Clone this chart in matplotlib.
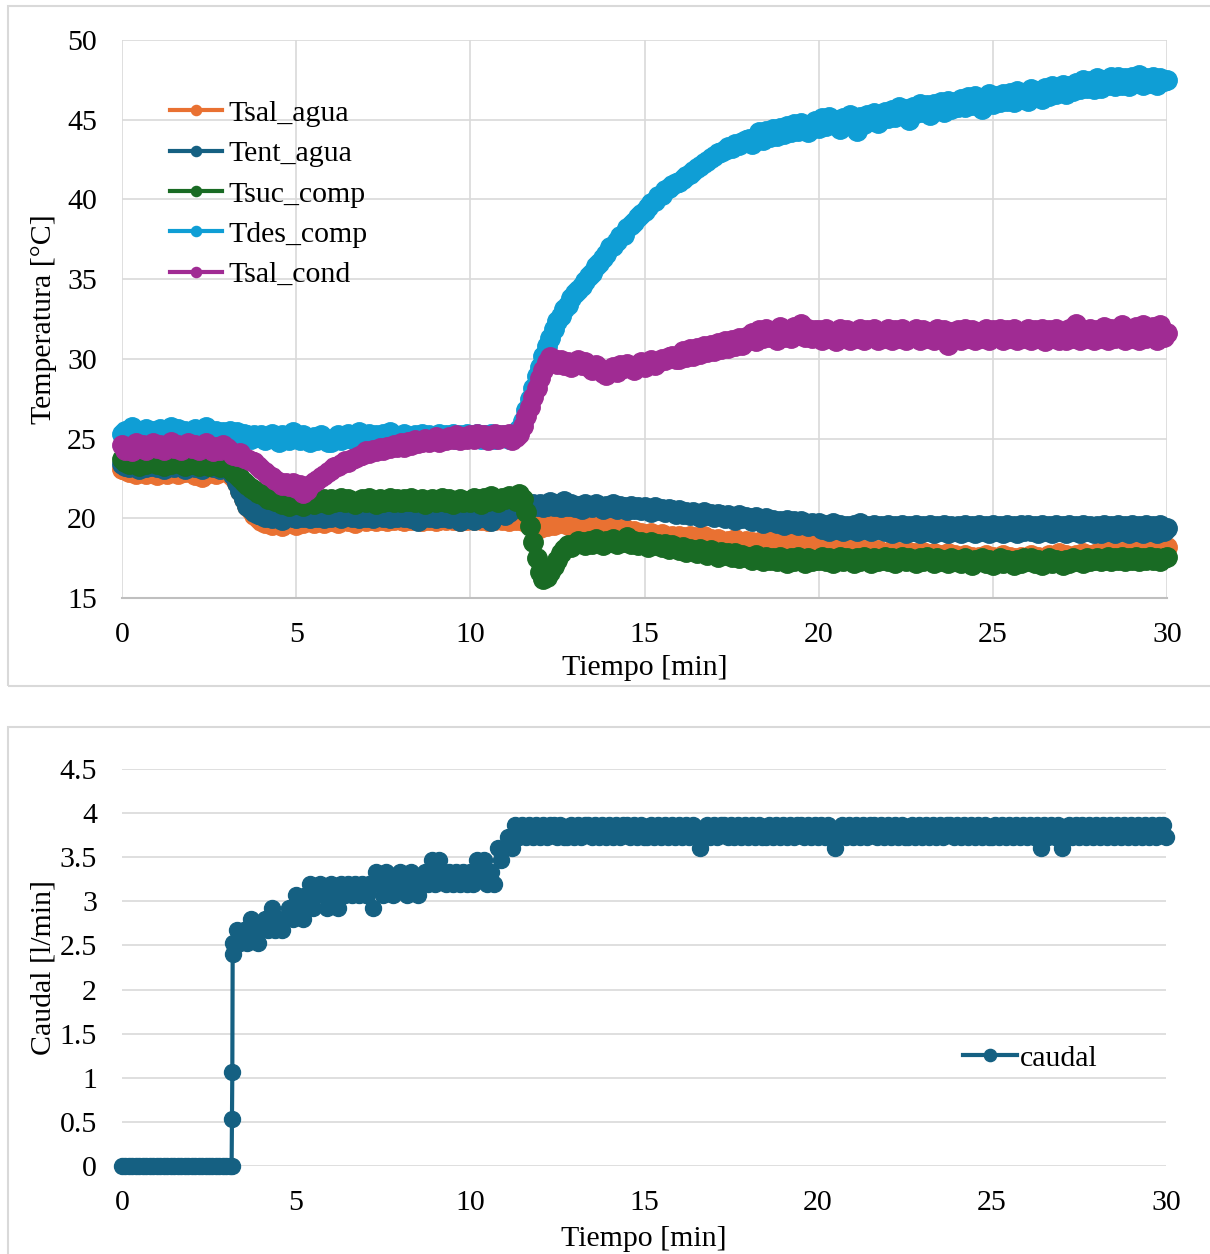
import numpy as np
import matplotlib
matplotlib.use("Agg")
import matplotlib.pyplot as plt
from matplotlib.patches import Rectangle

plt.rcParams['font.family'] = ['Liberation Serif', 'DejaVu Serif']

# time axis (minutes), one sample every 0.1 min
t = np.round(np.arange(0, 30.001, 0.1), 2)

tsal_agua = [
    23.1, 23.0, 22.9, 23.0, 22.8, 22.9, 23.1, 22.8, 23.0, 22.9, 22.7, 23.0, 22.9, 22.8, 23.0, 22.9, 22.8, 23.0, 22.9, 23.0,
    22.9, 22.7, 22.9, 22.6, 22.8, 23.0, 22.9, 22.8, 22.9, 23.0, 22.9, 22.8, 22.6, 22.2, 21.7, 21.2, 20.8, 20.5, 20.2, 20.0,
    19.8, 19.7, 19.9, 19.6, 19.8, 19.7, 19.5, 19.8, 19.9, 19.7, 19.6, 19.8, 19.7, 19.9, 19.8, 19.7, 19.9, 19.8, 19.7, 19.9,
    19.8, 19.9, 19.7, 19.9, 20.0, 19.8, 19.9, 19.7, 20.0, 19.9, 19.8, 20.0, 19.9, 19.8, 20.0, 19.9, 19.8, 20.0, 19.9, 20.0,
    19.9, 19.8, 20.0, 19.9, 20.1, 19.9, 19.8, 20.0, 19.9, 20.0, 19.8, 19.9, 20.0, 19.9, 20.1, 19.9, 20.0, 19.8, 20.0, 19.9,
    20.0, 19.9, 20.1, 19.9, 20.0, 19.8, 20.0, 19.9, 20.1, 19.9, 20.0, 19.8, 20.0, 19.9, 20.0, 19.8, 19.9, 19.7, 19.6, 19.5,
    19.4, 19.6, 19.5, 19.7, 19.6, 19.8, 19.7, 19.9, 19.6, 19.8, 19.7, 19.9, 19.8, 19.6, 19.8, 19.7, 19.9, 19.7, 19.6, 19.8,
    19.6, 19.5, 19.4, 19.3, 19.4, 19.2, 19.1, 19.2, 19.0, 19.1, 18.9, 19.0, 19.1, 18.9, 18.8, 19.0, 18.9, 18.8, 18.9, 18.7,
    18.9, 18.8, 18.7, 18.9, 18.6, 18.8, 18.7, 18.9, 18.6, 18.7, 18.5, 18.7, 18.6, 18.4, 18.6, 18.5, 18.7, 18.4, 18.5, 18.6,
    18.4, 18.5, 18.3, 18.5, 18.2, 18.4, 18.6, 18.3, 18.4, 18.2, 18.5, 18.3, 18.4, 18.7, 18.8, 18.5, 18.3, 18.4, 18.2, 18.3,
    18.1, 18.3, 18.0, 18.2, 18.1, 17.9, 18.2, 18.0, 18.1, 17.9, 18.0, 18.2, 17.8, 18.0, 17.9, 18.1, 17.8, 18.0, 17.9, 17.7,
    17.8, 18.0, 17.7, 17.9, 17.8, 17.6, 17.9, 17.7, 17.8, 17.6, 17.9, 17.7, 17.5, 17.8, 17.6, 17.7, 17.5, 17.8, 17.6, 17.7,
    17.6, 17.4, 17.7, 17.5, 17.6, 17.3, 17.6, 17.5, 17.7, 17.4, 17.6, 17.3, 17.5, 17.7, 17.4, 17.6, 17.5, 17.3, 17.6, 17.4,
    17.5, 17.7, 17.4, 17.6, 17.3, 17.5, 17.7, 17.4, 17.6, 17.8, 17.5, 17.7, 17.6, 17.4, 17.7, 17.5, 17.8, 17.6, 17.7, 17.5,
    17.8, 17.6, 17.9, 17.7, 18.0, 17.8, 17.6, 17.9, 17.7, 18.0, 17.8, 18.1, 17.9, 17.7, 18.0, 17.8, 18.1, 17.9, 17.5, 18.0,
    18.2]

tent_agua = [
    23.4, 23.3, 23.2, 23.4, 23.3, 23.1, 23.4, 23.2, 23.3, 23.5, 23.2, 23.3, 23.1, 23.4, 23.3, 23.2, 23.4, 23.3, 23.1, 23.3,
    23.4, 23.2, 23.3, 23.1, 23.3, 23.4, 23.2, 23.3, 23.1, 23.3, 23.2, 23.0, 22.7, 22.2, 21.7, 21.2, 20.8, 20.6, 20.4, 20.3,
    20.2, 20.1, 20.3, 20.0, 20.2, 20.1, 19.9, 20.2, 20.3, 20.1, 20.0, 20.2, 20.1, 20.3, 20.0, 20.2, 20.1, 20.3, 20.0, 20.2,
    20.1, 20.3, 20.2, 20.0, 20.2, 20.3, 20.1, 20.2, 20.0, 20.3, 20.1, 20.2, 20.0, 20.3, 20.2, 20.1, 20.3, 20.0, 20.2, 20.1,
    20.2, 20.1, 20.3, 20.0, 20.2, 19.8, 20.1, 20.3, 20.1, 20.2, 20.0, 20.2, 20.1, 20.3, 20.0, 20.2, 20.1, 19.8, 20.2, 20.1,
    20.2, 19.9, 20.3, 20.1, 20.2, 20.0, 19.8, 20.2, 20.4, 20.3, 20.2, 20.4, 20.6, 20.8, 20.7, 20.9, 20.8, 20.7, 20.9, 20.8,
    20.9, 20.7, 20.8, 21.0, 20.8, 20.9, 20.7, 21.1, 20.8, 20.9, 20.7, 20.8, 20.6, 20.9, 20.8, 20.7, 20.9, 20.8, 20.6, 20.8,
    20.7, 20.9, 20.6, 20.8, 20.7, 20.5, 20.8, 20.6, 20.7, 20.5, 20.7, 20.6, 20.4, 20.7, 20.5, 20.6, 20.4, 20.6, 20.5, 20.3,
    20.5, 20.3, 20.4, 20.2, 20.4, 20.3, 20.1, 20.4, 20.2, 20.3, 20.1, 20.3, 20.2, 20.0, 20.2, 20.1, 19.9, 20.2, 20.0, 20.1,
    20.0, 19.8, 20.1, 19.9, 19.7, 20.0, 19.8, 19.9, 19.7, 19.8, 19.6, 19.9, 19.7, 19.8, 19.6, 19.8, 19.7, 19.5, 19.7, 19.6,
    19.7, 19.3, 19.6, 19.2, 19.7, 19.3, 19.6, 19.2, 19.5, 19.3, 19.6, 19.2, 19.7, 19.3, 19.5, 19.2, 19.6, 19.3, 19.5, 19.2,
    19.6, 19.1, 19.5, 19.2, 19.6, 19.1, 19.5, 19.2, 19.6, 19.1, 19.5, 19.2, 19.6, 19.1, 19.5, 19.2, 19.6, 19.1, 19.5, 19.2,
    19.5, 19.1, 19.6, 19.2, 19.5, 19.1, 19.6, 19.2, 19.5, 19.1, 19.6, 19.2, 19.5, 19.1, 19.6, 19.2, 19.5, 19.1, 19.6, 19.2,
    19.6, 19.2, 19.5, 19.1, 19.6, 19.2, 19.5, 19.1, 19.6, 19.2, 19.5, 19.1, 19.6, 19.2, 19.5, 19.1, 19.6, 19.2, 19.5, 19.1,
    19.5, 19.1, 19.6, 19.2, 19.5, 19.1, 19.6, 19.2, 19.5, 19.1, 19.6, 19.2, 19.5, 19.1, 19.6, 19.2, 19.5, 19.1, 19.6, 19.2,
    19.4]

tsuc_comp = [
    23.7, 23.5, 23.4, 23.6, 23.5, 23.3, 23.6, 23.4, 23.5, 23.7, 23.4, 23.5, 23.3, 23.6, 23.4, 23.5, 23.6, 23.4, 23.3, 23.5,
    23.4, 23.6, 23.3, 23.5, 23.4, 23.3, 23.5, 23.4, 23.2, 23.4, 23.3, 23.1, 22.9, 22.7, 22.5, 22.3, 22.1, 21.9, 21.8, 21.6,
    21.5, 21.4, 21.2, 21.3, 21.1, 21.0, 20.9, 21.1, 20.8, 21.0, 20.9, 21.1, 20.8, 21.0, 21.2, 20.9, 21.1, 21.0, 21.2, 20.9,
    21.2, 21.0, 21.1, 21.3, 21.0, 21.2, 21.1, 20.9, 21.1, 21.2, 21.0, 21.3, 21.1, 20.9, 21.2, 21.0, 21.1, 21.3, 21.0, 21.2,
    21.0, 21.2, 21.1, 21.3, 21.0, 21.1, 21.2, 20.9, 21.1, 21.2, 21.0, 21.1, 21.3, 21.0, 21.2, 20.9, 21.1, 21.2, 21.0, 21.1,
    21.0, 21.3, 21.2, 20.9, 21.3, 21.1, 21.4, 21.2, 21.0, 21.3, 21.2, 21.4, 21.3, 21.1, 21.5, 21.2, 20.4, 19.5, 18.5, 17.5,
    16.6, 16.2, 16.3, 16.6, 17.0, 17.4, 17.8, 18.1, 18.3, 18.2, 18.4, 18.6, 18.5, 18.3, 18.6, 18.4, 18.7, 18.5, 18.3, 18.6,
    18.5, 18.7, 18.4, 18.6, 18.5, 18.8, 18.4, 18.6, 18.3, 18.5, 18.4, 18.2, 18.5, 18.3, 18.4, 18.2, 18.4, 18.1, 18.3, 18.2,
    18.0, 18.2, 17.9, 18.1, 18.0, 17.8, 18.1, 17.9, 17.7, 18.0, 17.8, 17.6, 17.9, 17.7, 17.8, 17.6, 17.8, 17.5, 17.7, 17.6,
    17.6, 17.4, 17.7, 17.5, 17.3, 17.6, 17.4, 17.5, 17.3, 17.6, 17.4, 17.2, 17.5, 17.3, 17.6, 17.4, 17.2, 17.5, 17.3, 17.4,
    17.4, 17.6, 17.3, 17.5, 17.2, 17.4, 17.6, 17.3, 17.5, 17.4, 17.2, 17.5, 17.3, 17.6, 17.4, 17.2, 17.5, 17.3, 17.4, 17.6,
    17.3, 17.5, 17.2, 17.4, 17.6, 17.3, 17.5, 17.4, 17.2, 17.5, 17.3, 17.6, 17.4, 17.2, 17.5, 17.3, 17.4, 17.2, 17.5, 17.3,
    17.4, 17.2, 17.5, 17.3, 17.1, 17.4, 17.3, 17.5, 17.2, 17.4, 17.1, 17.3, 17.5, 17.2, 17.4, 17.3, 17.1, 17.4, 17.2, 17.5,
    17.3, 17.5, 17.2, 17.4, 17.1, 17.3, 17.5, 17.2, 17.4, 17.3, 17.1, 17.4, 17.2, 17.5, 17.3, 17.4, 17.2, 17.5, 17.3, 17.4,
    17.5, 17.3, 17.4, 17.6, 17.3, 17.5, 17.4, 17.6, 17.3, 17.5, 17.4, 17.6, 17.3, 17.5, 17.4, 17.6, 17.4, 17.5, 17.3, 17.5,
    17.6]

tdes_comp = [
    25.3, 25.5, 25.4, 25.7, 25.3, 25.5, 25.4, 25.6, 25.3, 25.5, 25.4, 25.6, 25.3, 25.5, 25.7, 25.4, 25.6, 25.3, 25.5, 25.4,
    25.4, 25.6, 25.3, 25.5, 25.7, 25.4, 25.3, 25.5, 25.2, 25.4, 25.3, 25.5, 25.2, 25.4, 25.1, 25.3, 25.2, 25.0, 25.2, 25.1,
    25.2, 24.9, 25.1, 25.3, 25.0, 24.8, 25.2, 25.0, 24.9, 25.4, 25.1, 24.9, 25.2, 25.0, 24.8, 25.1, 24.9, 25.2, 25.0, 24.8,
    24.8, 25.0, 25.2, 24.9, 25.1, 25.3, 25.0, 25.2, 25.4, 25.1, 25.0, 25.3, 25.1, 25.2, 25.0, 25.3, 25.1, 25.4, 25.2, 25.0,
    25.0, 25.3, 25.1, 25.0, 25.2, 25.0, 25.3, 25.1, 25.2, 25.0, 25.1, 25.3, 25.0, 25.2, 25.1, 25.3, 25.0, 25.2, 25.1, 25.3,
    25.2, 25.1, 25.3, 25.0, 25.2, 25.1, 25.3, 25.0, 25.2, 25.1, 25.2, 25.0, 25.3, 25.2, 25.6, 26.1, 26.8, 27.5, 28.2, 28.9,
    29.5, 30.2, 30.8, 31.3, 31.9, 32.4, 32.7, 33.1, 33.4, 33.8, 34.1, 34.3, 34.6, 34.9, 35.2, 35.4, 35.8, 36.0, 36.3, 36.6,
    37.0, 37.1, 37.4, 37.7, 37.8, 38.2, 38.4, 38.6, 38.9, 39.1, 39.3, 39.5, 39.8, 39.9, 40.2, 40.3, 40.6, 40.7, 40.9, 41.0,
    41.1, 41.3, 41.5, 41.6, 41.8, 42.0, 42.1, 42.3, 42.4, 42.6, 42.7, 42.9, 43.0, 43.1, 43.3, 43.2, 43.5, 43.4, 43.6, 43.7,
    43.8, 43.5, 43.9, 44.2, 43.7, 44.3, 43.9, 44.4, 44.0, 44.5, 44.1, 44.6, 44.2, 44.7, 44.3, 44.8, 44.4, 44.2, 44.7, 44.9,
    44.5, 45.1, 44.6, 45.2, 44.7, 45.0, 44.4, 45.1, 44.8, 45.3, 44.9, 44.3, 45.2, 44.7, 45.3, 44.9, 45.4, 44.8, 45.2, 45.5,
    45.1, 45.6, 45.2, 45.8, 45.3, 45.7, 45.0, 45.8, 45.4, 46.0, 45.5, 45.9, 45.3, 46.0, 45.6, 46.1, 45.5, 46.2, 45.7, 46.1,
    45.8, 46.3, 45.8, 46.4, 45.9, 46.5, 46.1, 45.7, 46.4, 46.6, 46.0, 46.5, 46.1, 46.6, 46.2, 46.7, 46.1, 46.8, 46.3, 46.6,
    46.2, 46.9, 46.4, 46.8, 46.3, 47.0, 46.5, 47.1, 46.6, 46.9, 47.2, 46.6, 47.1, 46.8, 47.3, 46.9, 47.5, 47.0, 47.4, 46.9,
    47.6, 47.0, 47.5, 47.2, 47.7, 47.1, 47.7, 47.2, 47.6, 47.1, 47.7, 47.3, 47.8, 47.2, 47.6, 47.3, 47.7, 47.2, 47.6, 47.4,
    47.5]

tsal_cond = [
    24.6, 24.3, 24.5, 24.2, 24.7, 24.4, 24.6, 24.3, 24.5, 24.7, 24.4, 24.6, 24.3, 24.5, 24.8, 24.4, 24.6, 24.3, 24.5, 24.7,
    24.4, 24.6, 24.3, 24.5, 24.7, 24.4, 24.2, 24.5, 24.3, 24.6, 24.4, 24.2, 24.0, 23.9, 24.1, 23.8, 23.7, 23.6, 23.5, 23.3,
    23.1, 22.9, 22.7, 22.6, 22.4, 22.3, 22.1, 22.2, 22.0, 22.2, 21.9, 22.1, 21.6, 21.8, 22.1, 22.3, 22.4, 22.6, 22.7, 22.9,
    23.0, 23.2, 23.3, 23.4, 23.6, 23.5, 23.7, 23.8, 23.9, 24.0, 24.2, 24.1, 24.3, 24.2, 24.4, 24.3, 24.5, 24.4, 24.6, 24.5,
    24.7, 24.5, 24.8, 24.6, 24.9, 24.7, 24.8, 25.0, 24.8, 24.9, 25.1, 24.8, 25.0, 24.9, 25.1, 25.0, 25.2, 24.9, 25.1, 25.0,
    25.2, 25.0, 25.3, 25.1, 25.2, 24.9, 25.1, 25.3, 25.0, 25.2, 25.1, 25.3, 24.9, 25.1, 25.3, 25.8, 26.4, 27.0, 27.6, 28.2,
    28.8, 29.3, 29.8, 30.1, 30.0, 29.7, 29.9, 29.6, 29.8, 29.5, 29.7, 29.9, 29.6, 29.8, 29.5, 29.3, 29.6, 29.4, 29.1, 29.0,
    29.3, 29.5, 29.2, 29.6, 29.4, 29.7, 29.5, 29.3, 29.6, 29.8, 29.5, 29.7, 29.9, 29.6, 29.8, 30.0, 29.9, 30.1, 30.2, 30.0,
    30.0, 30.5, 30.1, 30.6, 30.2, 30.7, 30.3, 30.8, 30.4, 30.9, 30.5, 31.0, 30.6, 31.1, 30.7, 31.2, 30.8, 31.3, 30.9, 31.4,
    31.2, 31.6, 31.1, 31.8, 31.3, 31.9, 31.4, 31.7, 31.2, 32.0, 31.4, 31.8, 31.3, 32.0, 31.5, 32.2, 31.4, 31.9, 31.3, 31.8,
    31.8, 31.2, 31.9, 31.3, 31.7, 31.1, 31.9, 31.4, 31.8, 31.2, 31.7, 31.3, 31.9, 31.2, 31.8, 31.4, 31.9, 31.2, 31.7, 31.3,
    31.9, 31.2, 31.8, 31.3, 31.9, 31.2, 31.7, 31.4, 31.9, 31.2, 31.8, 31.3, 31.7, 31.2, 31.9, 31.3, 31.8, 30.9, 31.7, 31.3,
    31.8, 31.2, 31.9, 31.3, 31.8, 31.2, 31.7, 31.3, 31.9, 31.2, 31.8, 31.4, 31.9, 31.2, 31.8, 31.3, 31.9, 31.2, 31.7, 31.3,
    31.9, 31.2, 31.8, 31.3, 31.9, 31.1, 31.8, 31.3, 31.9, 31.2, 31.7, 31.2, 31.9, 31.3, 32.2, 31.2, 31.8, 31.3, 31.9, 31.2,
    31.8, 31.3, 32.0, 31.2, 31.9, 31.3, 31.8, 32.1, 31.2, 31.9, 31.3, 32.0, 31.2, 32.1, 31.3, 31.8, 32.0, 31.2, 32.1, 31.4,
    31.6]

caudal_main = [
    0, 0, 0, 0, 0, 0, 0, 0, 0, 0, 0, 0, 0, 0, 0, 0, 0, 0, 0, 0,
    0, 0, 0, 0, 0, 0, 0, 0, 0, 0, 0, 0, 2.53, 2.67, 2.53, 2.67, 2.53, 2.8, 2.67, 2.53,
    2.67, 2.8, 2.67, 2.93, 2.67, 2.8, 2.67, 2.8, 2.93, 2.8, 3.07, 2.93, 2.8, 3.07, 3.2, 2.93, 3.07, 3.2, 3.07, 2.93,
    3.2, 3.07, 2.93, 3.2, 3.07, 3.2, 3.07, 3.2, 3.07, 3.2, 3.07, 3.2, 2.93, 3.33, 3.2, 3.07, 3.33, 3.2, 3.07, 3.2,
    3.33, 3.2, 3.07, 3.33, 3.2, 3.07, 3.2, 3.33, 3.2, 3.47, 3.2, 3.47, 3.33, 3.2, 3.33, 3.2, 3.33, 3.2, 3.33, 3.2,
    3.33, 3.2, 3.47, 3.33, 3.47, 3.2, 3.33, 3.2, 3.6, 3.47, 3.6, 3.73, 3.6, 3.87, 3.73, 3.87, 3.73, 3.87, 3.73, 3.87,
    3.73, 3.87, 3.73, 3.87, 3.87, 3.73, 3.87, 3.73, 3.73, 3.87, 3.73, 3.87, 3.73, 3.87, 3.87, 3.73, 3.87, 3.73, 3.87, 3.73,
    3.87, 3.73, 3.87, 3.73, 3.87, 3.87, 3.73, 3.87, 3.73, 3.87, 3.73, 3.73, 3.87, 3.73, 3.87, 3.73, 3.87, 3.73, 3.87, 3.73,
    3.87, 3.73, 3.87, 3.73, 3.87, 3.73, 3.6, 3.73, 3.87, 3.73, 3.87, 3.73, 3.87, 3.87, 3.73, 3.87, 3.73, 3.87, 3.73, 3.87,
    3.73, 3.87, 3.73, 3.87, 3.73, 3.73, 3.87, 3.73, 3.87, 3.73, 3.87, 3.73, 3.87, 3.73, 3.87, 3.87, 3.73, 3.87, 3.73, 3.87,
    3.73, 3.87, 3.73, 3.87, 3.73, 3.6, 3.73, 3.87, 3.73, 3.87, 3.73, 3.87, 3.73, 3.87, 3.73, 3.87, 3.87, 3.73, 3.87, 3.73,
    3.87, 3.73, 3.87, 3.73, 3.87, 3.73, 3.73, 3.87, 3.73, 3.87, 3.73, 3.87, 3.73, 3.87, 3.73, 3.87, 3.73, 3.87, 3.87, 3.73,
    3.87, 3.73, 3.87, 3.73, 3.87, 3.73, 3.87, 3.73, 3.87, 3.73, 3.73, 3.87, 3.73, 3.87, 3.73, 3.87, 3.73, 3.87, 3.73, 3.87,
    3.73, 3.87, 3.73, 3.87, 3.6, 3.87, 3.73, 3.87, 3.73, 3.87, 3.6, 3.73, 3.87, 3.73, 3.87, 3.73, 3.87, 3.73, 3.87, 3.73,
    3.87, 3.73, 3.87, 3.73, 3.87, 3.73, 3.87, 3.73, 3.87, 3.73, 3.87, 3.73, 3.87, 3.73, 3.87, 3.73, 3.87, 3.73, 3.87, 3.87,
    3.73]
# fast ramp when the pump starts
ramp_t = [3.15, 3.16, 3.17, 3.18]
ramp_v = [0, 0.53, 1.07, 2.4]

series_names = ['Tsal_agua', 'Tent_agua', 'Tsuc_comp', 'Tdes_comp', 'Tsal_cond']
series_vals = [tsal_agua, tent_agua, tsuc_comp, tdes_comp, tsal_cond]
colors = ['#E97132', '#156082', '#196B24', '#0F9ED5', '#A02B93']

x_ticks = [0, 5, 10, 15, 20, 25, 30]
y1_ticks = [15, 20, 25, 30, 35, 40, 45, 50]
y2_ticks = [0, 0.5, 1, 1.5, 2, 2.5, 3, 3.5, 4, 4.5]
y2_labels = ['0', '0.5', '1', '1.5', '2', '2.5', '3', '3.5', '4', '4.5']

W, H = 1210, 1254
FS = 21.5
GRID = '#d9d9d9'
MS1 = 14
MS2 = 11.5

fig = plt.figure(figsize=(W / 100, H / 100), dpi=100)

# panel frames
fig.patches.append(Rectangle((8 / W, 1 - 686 / H), 2.0, (686 - 6) / H,
                             transform=fig.transFigure, fill=False,
                             ec=GRID, lw=1.5))
fig.patches.append(Rectangle((8 / W, -0.5), 2.0, 0.5 + 1 - 727 / H,
                             transform=fig.transFigure, fill=False,
                             ec=GRID, lw=1.5))

# ---- top chart ----
ax1 = fig.add_axes([122 / W, 1 - 598 / H, (1167 - 122) / W, (598 - 40) / H])
for name, vals, c in zip(series_names, series_vals, colors):
    ax1.plot(t, vals, color=c, lw=3, marker='o', ms=MS1, mec=c, mfc=c,
             label=name, clip_on=False)
ax1.set_xlim(0, 30)
ax1.set_ylim(15, 50)
ax1.set_xticks(x_ticks)
ax1.set_yticks(y1_ticks)
ax1.grid(True, color=GRID, lw=1.2)
ax1.set_axisbelow(True)
for s in ['top', 'right', 'left']:
    ax1.spines[s].set_visible(False)
ax1.spines['bottom'].set_color('#bfbfbf')
ax1.spines['bottom'].set_linewidth(1.5)
ax1.tick_params(length=0, labelsize=FS)
ax1.tick_params(axis='x', pad=17.5)
ax1.tick_params(axis='y', pad=18)
ax1.set_xlabel('Tiempo [min]', fontsize=FS, labelpad=5)
ax1.set_ylabel('Temperatura [°C]', fontsize=FS, labelpad=7)
ax1.legend(loc='upper left', bbox_to_anchor=(170 / W, 1 - 100 / H),
           bbox_transform=fig.transFigure, frameon=False, fontsize=FS,
           handlelength=1.75, handletextpad=0.2, labelspacing=0.45,
           borderpad=0, borderaxespad=0, markerscale=7.3 / MS1)

# ---- bottom chart ----
ax2 = fig.add_axes([122 / W, 1 - 1166 / H, (1166 - 122) / W, (1166 - 769) / H])
ct = np.concatenate([t, ramp_t])
cv = np.concatenate([caudal_main, ramp_v])
order = np.argsort(ct, kind='stable')
ax2.plot(ct[order], cv[order], color='#156082', lw=3, marker='o', ms=MS2,
         label='caudal', clip_on=False)
ax2.set_xlim(0, 30)
ax2.set_ylim(0, 4.5)
ax2.set_xticks(x_ticks)
ax2.set_yticks(y2_ticks)
ax2.set_yticklabels(y2_labels)
ax2.grid(True, axis='y', color=GRID, lw=1.2)
ax2.set_axisbelow(True)
for s in ['top', 'right', 'left', 'bottom']:
    ax2.spines[s].set_visible(False)
ax2.tick_params(length=0, labelsize=FS)
ax2.tick_params(axis='x', pad=17.5)
ax2.tick_params(axis='y', pad=18)
ax2.set_xlabel('Tiempo [min]', fontsize=FS, labelpad=7)
ax2.set_ylabel('Caudal [l/min]', fontsize=FS, labelpad=2.5)
ax2.legend(loc='upper left', bbox_to_anchor=(963 / W, 1 - 1045 / H),
           bbox_transform=fig.transFigure, frameon=False, fontsize=FS,
           handlelength=1.8, handletextpad=0.12, borderpad=0,
           borderaxespad=0, markerscale=8.8 / MS2)

fig.savefig('out.png', dpi=100)
